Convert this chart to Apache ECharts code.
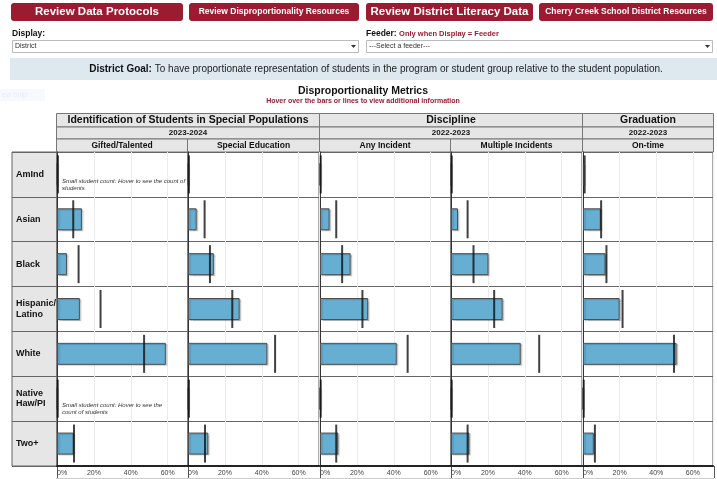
<!DOCTYPE html>
<html>
<head>
<meta charset="utf-8">
<script src="https://cdn.jsdelivr.net/npm/echarts@6/dist/echarts.min.js"></script>
<style>
  html, body { margin: 0; padding: 0; background: #fff; }
  #main { width: 717px; height: 479px; }
</style>
</head>
<body>
<div id="main"></div>
<script>
// student groups (rows) and metrics (panels)
const groups = ['AmInd', 'Asian', 'Black', 'Hispanic/\nLatino', 'White', 'Native\nHaw/PI', 'Two+']
const metrics = ['Gifted/Talented', 'Special Education', 'Any Incident', 'Multiple Incidents', 'On-time']
const axisTicks = [0, 20, 40, 60]

// bars: % of the program / student group
const giftedPct = [0, 13.5, 5.4, 12.4, 59, 0, 9]
const specEdPct = [0, 4.7, 14, 28, 43, 0, 11]
const anyIncidentPct = [0, 5.2, 16.6, 26.1, 41.6, 0, 9.9]
const multiIncidentPct = [0, 3.8, 20.3, 28, 37.8, 0, 10]
const onTimePct = [0.5, 9.7, 12.3, 20, 51.1, 0, 5.9]

// black lines: % of the student population
const giftedPop = [0.5, 8.8, 11.7, 23.6, 47.2, 0.4, 9.2]
const specEdPop = [0.5, 9, 11.9, 24, 47.2, 0.5, 9.2]
const anyIncidentPop = [0.4, 8.8, 12, 23, 47.5, 0.4, 8.8]
const multiIncidentPop = [0.4, 9, 12.2, 23.4, 47.8, 0.4, 9]
const onTimePop = [0.9, 9.9, 12.8, 21.6, 49.7, 0.4, 6.5]

const barData = [giftedPct, specEdPct, anyIncidentPct, multiIncidentPct, onTimePct]
const lineData = [giftedPop, specEdPop, anyIncidentPop, multiIncidentPop, onTimePop]

const FONT = '"Liberation Sans", Arial, sans-serif'
const RED = '#9b1b30'
const panelLeft = [57, 188, 320, 451, 583]
const panelW = 131
const plotTop = 152
const plotBottom = 466

var myChart = echarts.init(document.getElementById('main'))

const grids = []
const xAxes = []
const yAxes = []
const series = []

// row-header column
grids.push({ left: 12, width: 45, top: plotTop, height: plotBottom - plotTop, show: true, backgroundColor: '#e6e6e6', borderColor: '#666', borderWidth: 1 })
xAxes.push({ gridIndex: 0, type: 'value', show: false })
yAxes.push({
  gridIndex: 0,
  type: 'category',
  data: groups,
  inverse: true,
  axisLine: { show: false },
  axisTick: { show: false },
  splitLine: { show: true, lineStyle: { color: '#666' } },
  axisLabel: {
    inside: true,
    margin: 4,
    align: 'left',
    fontFamily: FONT,
    fontWeight: 'bold',
    fontSize: 9,
    lineHeight: 10.5,
    color: '#111',
  },
})

metrics.forEach((m, i) => {
  const g = i + 1
  grids.push({ left: panelLeft[i], width: i === 4 ? 130 : panelW, top: plotTop, height: plotBottom - plotTop, show: true, borderColor: '#555', borderWidth: 1 })
  xAxes.push({
    gridIndex: g,
    type: 'value',
    min: 0,
    max: 71,
    interval: 20,
    axisLine: { show: true, lineStyle: { color: '#222', width: 2 } },
    axisTick: { show: false },
    splitLine: { show: true, lineStyle: { color: '#ececec' } },
    axisLabel: {
      showMaxLabel: false,
      alignMinLabel: 'left',
      margin: 4,
      fontFamily: FONT,
      fontSize: 7,
      color: '#444',
      formatter: (v) => (axisTicks.includes(v) ? v + '%' : ''),
    },
  })
  yAxes.push({
    gridIndex: g,
    type: 'category',
    data: groups,
    inverse: true,
    axisLine: { show: true, lineStyle: { color: '#333' } },
    axisTick: { show: false },
    axisLabel: { show: false },
    splitLine: { show: true, lineStyle: { color: '#666' } },
  })
  series.push({
    name: m,
    type: 'bar',
    xAxisIndex: g,
    yAxisIndex: g,
    barWidth: 22,
    data: barData[i],
    itemStyle: {
      color: '#66aed2',
      borderColor: '#505050',
      borderWidth: 1,
      shadowColor: 'rgba(0,0,0,0.2)',
      shadowBlur: 1,
      shadowOffsetX: 1.5,
      shadowOffsetY: 1,
    },
  })
  series.push({
    name: m + ' population',
    type: 'scatter',
    xAxisIndex: g,
    yAxisIndex: g,
    symbol: 'rect',
    symbolSize: [2, 38],
    data: lineData[i],
    itemStyle: { color: '#111' },
    z: 5,
  })
})

// page furniture
const gfx = []
function box(x, y, w, h, fill, stroke, r) {
  gfx.push({ type: 'rect', shape: { x: x, y: y, width: w, height: h, r: r || 0 }, style: { fill: fill, stroke: stroke || null, lineWidth: 1 }, silent: true })
}
function txt(x, y, text, size, opts) {
  opts = opts || {}
  gfx.push({
    type: 'text',
    x: x,
    y: y,
    style: {
      text: text,
      font: (opts.italic ? 'italic ' : '') + (opts.bold ? 'bold ' : '') + size + 'px ' + FONT,
      fill: opts.color || '#111',
      align: opts.align || 'left',
      verticalAlign: 'middle',
      lineHeight: opts.lineHeight,
      rich: opts.rich,
    },
    silent: true,
    z: 10,
  })
}
function vline(x, y1, y2, color) {
  gfx.push({ type: 'line', shape: { x1: x, y1: y1, x2: x, y2: y2 }, style: { stroke: color, lineWidth: 1 }, silent: true })
}

// buttons
const buttons = [
  [11, 172, 'Review Data Protocols', 11.5],
  [189, 170, 'Review Disproportionality Resources', 8.5],
  [366, 167, 'Review District Literacy Data', 11.5],
  [539, 174, 'Cherry Creek School District Resources', 8.5],
]
buttons.forEach((b) => {
  box(b[0], 3, b[1], 18, RED, null, 3)
  txt(b[0] + b[1] / 2, 12, b[2], b[3], { bold: true, color: '#fff', align: 'center' })
})

// selectors
txt(12, 34, 'Display:', 8.5, { bold: true })
box(12.5, 40.5, 346, 12, '#fff', '#bbb')
txt(15, 46.5, 'District', 7, { color: '#333' })
txt(366, 34, '{b|Feeder:} {r|Only when Display = Feeder}', 8.5, {
  bold: true,
  rich: { b: { fontWeight: 'bold', fontSize: 8.5, fontFamily: FONT, fill: '#111' }, r: { fontWeight: 'bold', fontSize: 7.5, fontFamily: FONT, fill: RED } },
})
box(366.5, 40.5, 346, 12, '#fff', '#bbb')
txt(369, 46.5, '---Select a feeder---', 7, { color: '#333' })
;[351, 705].forEach((x) => {
  gfx.push({ type: 'polygon', shape: { points: [[x, 45], [x + 5, 45], [x + 2.5, 48]] }, style: { fill: '#333' }, silent: true })
})

// goal banner
box(10, 58, 707, 22, '#dde9ef')
txt(376, 69, '{b|District Goal:} To have proportionate representation of students in the program or student group relative to the student population.', 10, {
  align: 'center',
  color: '#222',
  rich: { b: { fontWeight: 'bold', fontSize: 10, fontFamily: FONT, fill: '#111' } },
})

// faint snip ghost
box(0, 89, 45, 12, '#f7f9fc')
txt(2, 95, 'ew Snip', 7, { color: '#e6edf5' })

// titles
txt(363, 91, 'Disproportionality Metrics', 10.5, { bold: true, align: 'center' })
txt(363, 101.5, 'Hover over the bars or lines to view additional information', 7, { bold: true, align: 'center', color: RED })

// header table
const hx = [56.5, 187.5, 319.5, 450.5, 582.5, 713.5]
const spans = [
  [0, 2, 'Identification of Students in Special Populations', '2023-2024'],
  [2, 4, 'Discipline', '2022-2023'],
  [4, 5, 'Graduation', '2022-2023'],
]
spans.forEach((s) => {
  const x0 = hx[s[0]]
  const x1 = hx[s[1]]
  box(x0, 113.5, x1 - x0, 13.5, '#e6e6e6', '#777')
  txt((x0 + x1) / 2, 120.5, s[2], 10.5, { bold: true, align: 'center' })
  box(x0, 127, x1 - x0, 12, '#e6e6e6', '#777')
  txt((x0 + x1) / 2, 133.2, s[3], 8, { bold: true, align: 'center' })
})
metrics.forEach((m, i) => {
  box(hx[i], 139, hx[i + 1] - hx[i], 13, '#e6e6e6', '#777')
  txt((hx[i] + hx[i + 1]) / 2, 145.7, m, 8.5, { bold: true, align: 'center' })
})

// dividers through the tick-label strip
hx.forEach((x) => vline(Math.round(x) + 0.5, plotBottom, 478, '#555'))
gfx.push({ type: 'line', shape: { x1: 56, y1: 478.5, x2: 714, y2: 478.5 }, style: { stroke: '#ccc', lineWidth: 1 }, silent: true })

// small count notes
txt(62, 184.5, 'Small student count: Hover to see the count of\nstudents', 6, { italic: true, color: '#333', lineHeight: 7 })
txt(62, 408.5, 'Small student count: Hover to see the\ncount of students', 6, { italic: true, color: '#333', lineHeight: 7 })

const option = {
  animation: false,
  backgroundColor: '#fff',
  grid: grids,
  xAxis: xAxes,
  yAxis: yAxes,
  series: series,
  graphic: { elements: gfx },
}
myChart.setOption(option)
</script>
</body>
</html>
